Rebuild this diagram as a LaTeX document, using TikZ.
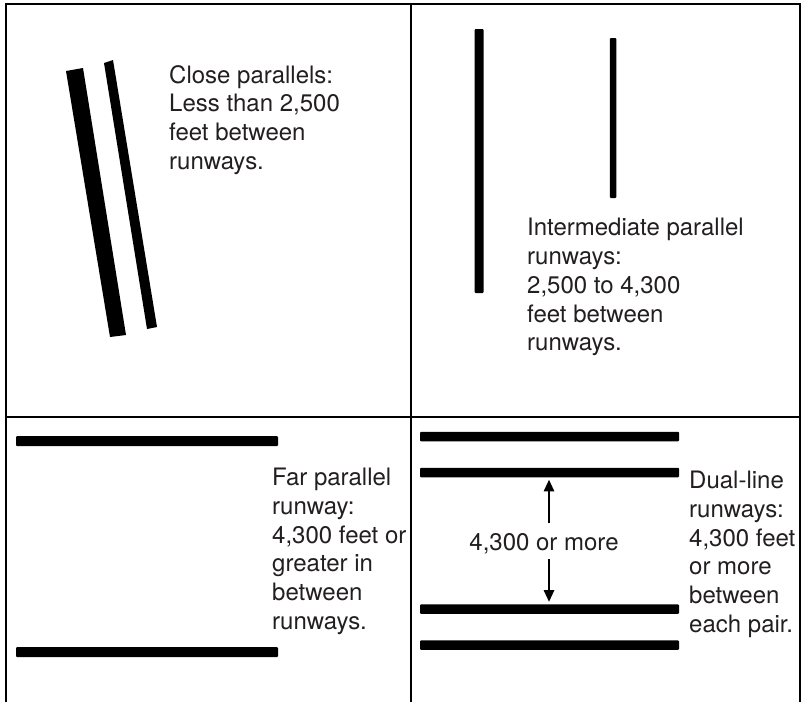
\documentclass[tikz,border=0pt]{standalone}
\usepackage{fontspec}
\setmainfont{TeX Gyre Heros}
\usetikzlibrary{arrows.meta}
\definecolor{txt}{HTML}{231F20}
\begin{document}
\begin{tikzpicture}[x=1pt,y=-1pt,
  grid/.style={line width=2pt, draw=black, line join=miter},
  bar/.style={fill=black, draw=none, inner sep=0pt, rectangle, rounded corners=1pt},
  lbl/.style={font=\fontsize{24}{28.8}\selectfont, align=left, anchor=base west, inner sep=0pt, text=txt},
  arr/.style={line width=2.8pt, draw=black, -{Triangle[width=10pt,length=12pt]}, shorten >=2pt}]
\useasboundingbox (0,0) rectangle (802,702);
\fill[white] (0,0) rectangle (802,702);
% grid
\draw[grid] (6,702) -- (6,4) -- (800,4) -- (800,702);
\draw[grid] (410.5,4) -- (410.5,702);
\draw[grid] (6,417) -- (800,417);
% close parallels
\fill[black] (66,71) -- (83,68) -- (126,335) -- (110,337) -- cycle;
\fill[black] (104,63) -- (113,60) -- (157,327) -- (147,329) -- cycle;
% intermediate
\node[bar, minimum width=9pt, minimum height=264pt] (ir1) at (479,161) {};
\node[bar, minimum width=6.5pt, minimum height=160pt] (ir2) at (613,118) {};
% far
\node[bar, minimum width=262pt, minimum height=10pt] (fp1) at (147,441) {};
\node[bar, minimum width=262pt, minimum height=10pt] (fp2) at (147,652) {};
% dual-line
\node[bar, minimum width=259pt, minimum height=9.5pt] (dl1) at (549.5,436.5) {};
\node[bar, minimum width=259pt, minimum height=9.5pt] (dl2) at (549.5,472.5) {};
\node[bar, minimum width=259pt, minimum height=9.5pt] (dl3) at (549.5,609) {};
\node[bar, minimum width=259pt, minimum height=9.5pt] (dl4) at (549.5,645) {};
\node[font=\fontsize{24}{28.8}\selectfont, anchor=base, inner sep=0pt, text=txt] (gap) at (544,550) {4,300 or more};
\coordinate (up0) at (549,523);
\coordinate (dn0) at (549,559);
\draw[arr] (up0) -- (up0 |- dl2.south);
\draw[arr] (dn0) -- (dn0 |- dl3.north);
% texts (anchor is the baseline of the last line)
\node[lbl] (t1) at (169,169.4) {Close parallels:\\Less than 2,500\\feet between\\runways.};
\node[lbl] (t2) at (527,350.8) {Intermediate parallel\\runways:\\2,500 to 4,300\\feet between\\runways.};
\node[lbl] (t3) at (272,629.5) {Far parallel\\runway:\\4,300 feet or\\greater in\\between\\runways.};
\node[lbl] (t4) at (689,632.5) {Dual-line\\runways:\\4,300 feet\\or more\\between\\each pair.};
\end{tikzpicture}
\end{document}
